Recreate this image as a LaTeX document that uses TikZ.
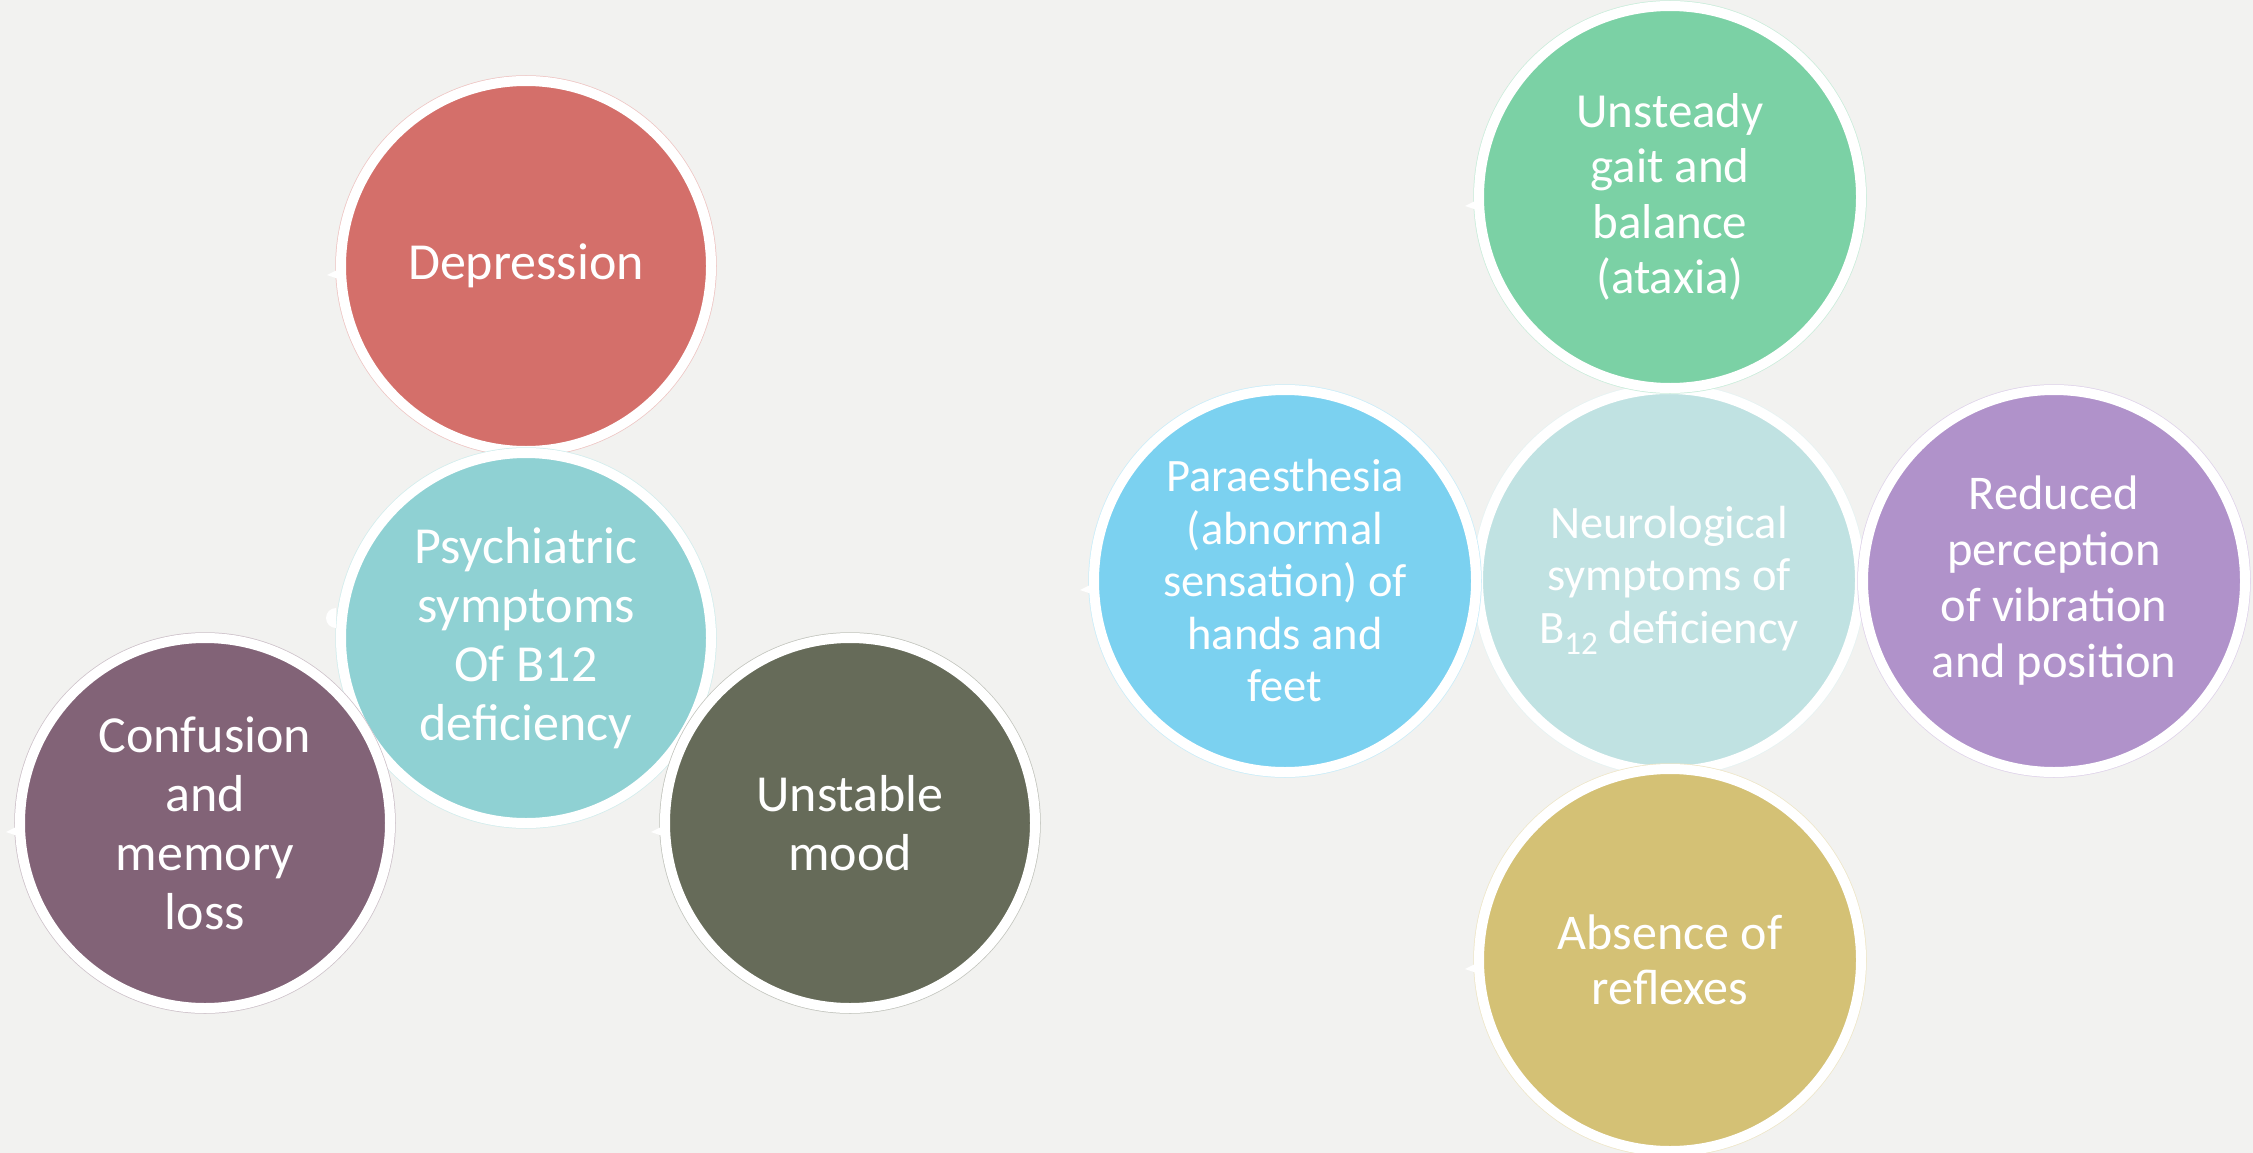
\documentclass[tikz,border=0pt]{standalone}
\usepackage{fontspec}
\setmainfont{Carlito}

\definecolor{pagebg}{RGB}{242,242,240}
\definecolor{cDep}{RGB}{212,111,106}
\definecolor{cPsy}{RGB}{143,209,211}
\definecolor{cCon}{RGB}{130,99,119}
\definecolor{cMood}{RGB}{102,107,89}
\definecolor{cGait}{RGB}{123,209,165}
\definecolor{cPar}{RGB}{123,209,240}
\definecolor{cNeu}{RGB}{192,226,226}
\definecolor{cVib}{RGB}{176,146,202}
\definecolor{cRefl}{RGB}{212,193,117}

\begin{document}
\begin{tikzpicture}[x=1pt,y=-1pt,
  bubble/.style={circle, inner sep=0pt, draw=white, line width=10pt,
    fill=#1, text=white, align=center,
    preaction={draw=#1!40!white, line width=11.5pt}},
  small/.style={minimum size=370pt},
  large/.style={minimum size=382pt},
  txtL/.style={font=\fontsize{52}{59}\selectfont},
  notch/.style={fill=white}]

% page
\useasboundingbox (0,0) rectangle (2253,1153);
\fill[pagebg] (0,0) rectangle (2253,1153);

% psychiatric group
\node[bubble=cDep, small, txtL] (dep) at (526,266) {Depression};
\node[bubble=cPsy, small, txtL] (psy) at (526,638)
  {Psychiatric\\symptoms\\Of B12\\deficiency};
\node[bubble=cCon, small, txtL] (con) at (205,823)
  {Confusion\\and\\memory\\loss};
\node[bubble=cMood, small, txtL] (mood) at (850,823) {Unstable\\mood};

% neurological group
\node[bubble=cNeu, large, font=\fontsize{46.5}{52.5}\selectfont] (neu) at (1669,580)
  {Neurological\\symptoms of\\B\raisebox{-11pt}{\fontsize{33}{33}\selectfont 12} deficiency};
\node[bubble=cGait, large, font=\fontsize{49}{55.5}\selectfont] (gait) at (1670,197)
  {Unsteady\\gait and\\balance\\(ataxia)};
\node[bubble=cPar, large, font=\fontsize{46.5}{52.5}\selectfont] (par) at (1285,581)
  {Paraesthesia\\(abnormal\\sensation) of\\hands and\\feet};
\node[bubble=cVib, large, font=\fontsize{48.5}{56}\selectfont] (vib) at (2054,581)
  {Reduced\\perception\\of vibration\\and position};
\node[bubble=cRefl, large, font=\fontsize{50}{55}\selectfont] (refl) at (1670,960)
  {Absence of\\reflexes};

% small white tabs on the left rims
\fill[notch] (psy.west) ++(0,-10) arc[start angle=90, end angle=270, radius=10] -- cycle;
\foreach \n in {dep,con,mood,gait,par,refl}
  \fill[notch] (\n.west) ++(-9,9) -- ++(12,-6) -- ++(0,10) -- cycle;

\end{tikzpicture}
\end{document}
